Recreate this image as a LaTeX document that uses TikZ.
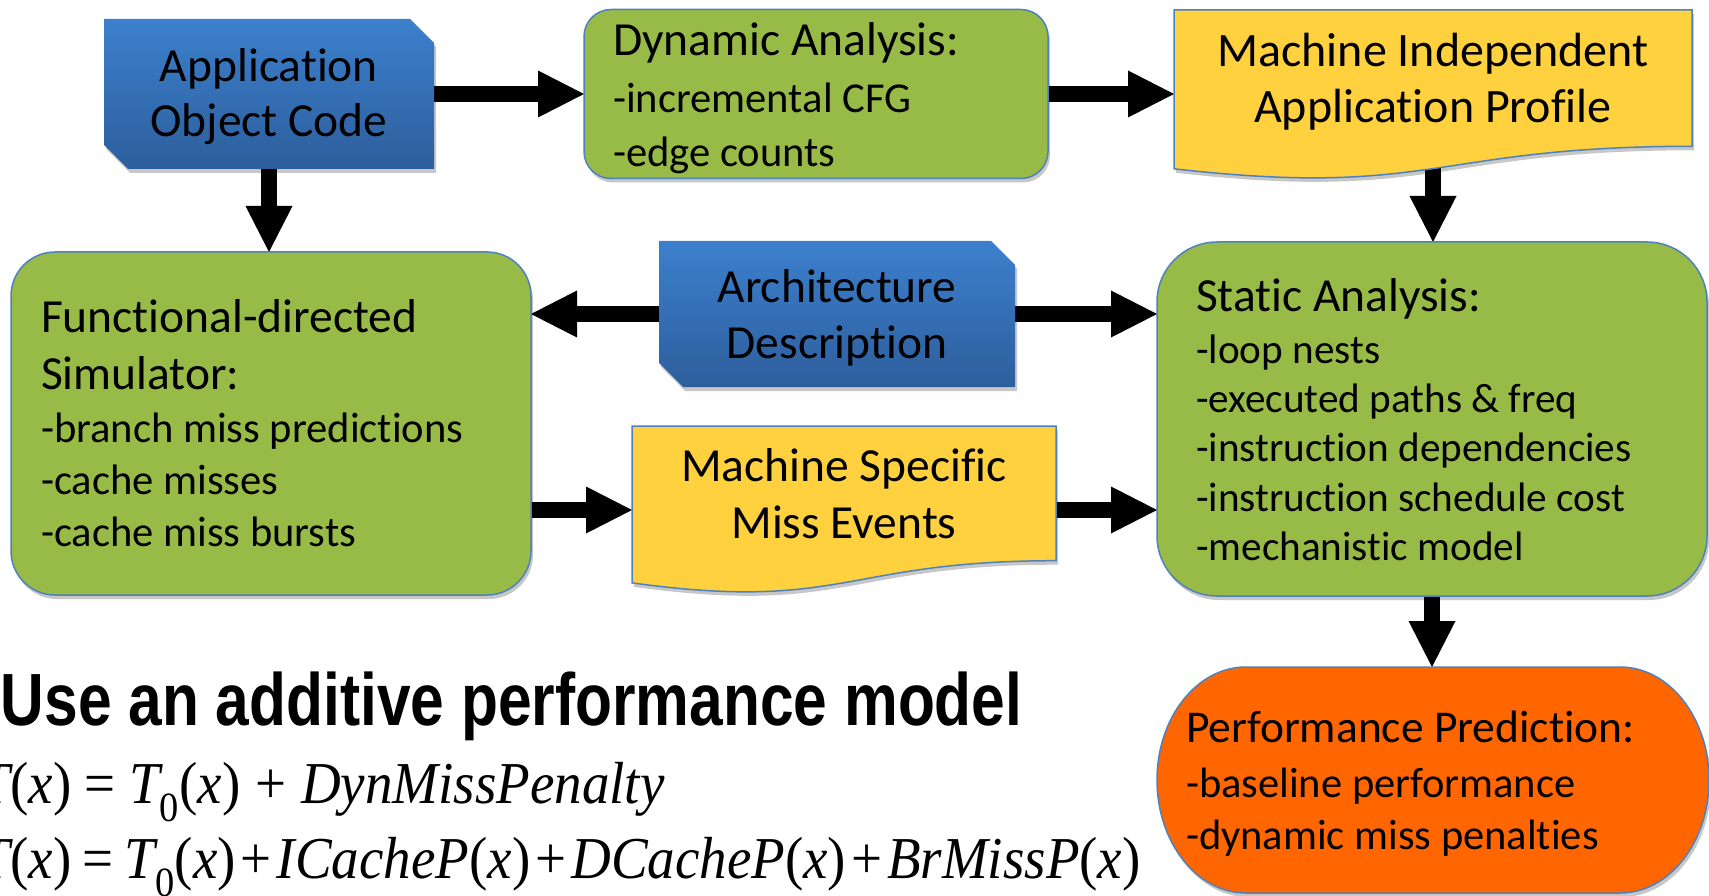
\documentclass[tikz,border=0pt]{standalone}
\usepackage{fontspec}
\usepackage{graphicx}
\setmainfont{Carlito}[Ligatures=NoCommon]
\newfontfamily\titlefont{Liberation Sans}
\newfontfamily\eqfont{Liberation Serif}
\usetikzlibrary{arrows.meta,shadows}

\definecolor{boxgreen}{RGB}{152,187,72}
\definecolor{edgeblue}{RGB}{79,129,189}
\definecolor{docyellow}{RGB}{255,209,63}
\definecolor{perforange}{RGB}{255,102,0}
\definecolor{bluetop}{RGB}{60,128,205}
\definecolor{bluebot}{RGB}{45,94,156}

\newcommand\headsize{\fontsize{47.5}{56}\selectfont}
\newcommand\eqit[1]{{\itshape #1}}
\newcommand\eqrel[1]{\hspace{#1}=\hspace{#1}}
\newcommand\eqplus[1]{\hspace{#1}+\hspace{#1}}

\begin{document}
\begin{tikzpicture}[x=1pt,y=-1pt,
  frame/.style 2 args={inner sep=0pt,outer sep=0pt,minimum width=#1,minimum height=#2},
  shadowed/.style={drop shadow={shadow xshift=2pt,shadow yshift=-4pt,opacity=0.22,fill=black}},
  bluebox/.style={top color=bluetop,bottom color=bluebot,shadowed},
  greenbox/.style={fill=boxgreen,draw=edgeblue,line width=1.5pt,shadowed},
  docbox/.style={fill=docyellow,draw=edgeblue,line width=1.5pt,shadowed},
  perfbox/.style={fill=perforange,draw=edgeblue,line width=1.5pt,shadowed},
  flow/.style={line width=16pt,-{Triangle[length=46pt,width=47pt,line width=0pt]}},
  label/.style={inner sep=0pt,outer sep=0pt},
]
\useasboundingbox (0,0) rectangle (1709,896);

% node frames
\node[frame={330pt}{150pt}] (app)    at (269,94)    {};
\node[frame={464pt}{169pt}] (dyn)    at (816,94)    {};
\node[frame={518pt}{170pt}] (prof)   at (1433,95)   {};
\node[frame={520pt}{343pt}] (func)   at (271,423.5) {};
\node[frame={356pt}{146pt}] (arch)   at (837,314)   {};
\node[frame={550pt}{354pt}] (static) at (1432,419)  {};
\node[frame={424pt}{168pt}] (ms)     at (844,510)   {};
\node[frame={552pt}{226pt}] (perf)   at (1433,780)  {};

% connectors
\draw[flow] (app) -- (dyn);
\draw[flow] (dyn.east) -- (dyn.east -| prof.west);
\draw[flow] (app.south) -- (app.south |- func.north);
\draw[flow] (prof.center) -- (prof.center |- static.north);
\draw[flow] (arch.west) -- (arch.west -| func.east);
\draw[flow] (arch.east) -- (arch.east -| static.west);
\draw[flow] (ms.west -| func.east) -- (ms.west);
\draw[flow] (ms.east) -- (ms.east -| static.west);
\draw[flow] (static.south) -- (static.south |- perf.north);

% shapes
\shade[bluebox] (app.north west) -- ([xshift=-24pt]app.north east) -- ([yshift=-24pt]app.north east)
  -- (app.south east) -- ([xshift=24pt]app.south west) -- ([yshift=24pt]app.south west) -- cycle;
\shade[bluebox] (arch.north west) -- ([xshift=-24pt]arch.north east) -- ([yshift=-24pt]arch.north east)
  -- (arch.south east) -- ([xshift=24pt]arch.south west) -- ([yshift=24pt]arch.south west) -- cycle;
\path[greenbox,rounded corners=27pt] (dyn.north west) rectangle (dyn.south east);
\path[greenbox,rounded corners=44pt] (func.north west) rectangle (func.south east);
\path[greenbox,rounded corners=60pt] (static.north west) rectangle (static.south east);
\path[docbox] (prof.north west) -- (prof.north east) -- (1692,146.3)
  .. controls (1433,146.3) and (1433,198.3) .. (1174,168.8) -- cycle;
\path[docbox] (ms.north west) -- (ms.north east) -- (1056,560.7)
  .. controls (844,560.7) and (844,612) .. (632,582.9) -- cycle;
\path[perfbox] (1246,667) -- (1620,667) arc[start angle=-90,end angle=90,x radius=89,y radius=113]
  -- (1246,893) arc[start angle=90,end angle=270,x radius=89,y radius=113] -- cycle;

% texts
\node[label,anchor=base] (app-t) at (269,82) {\fontsize{47.5}{55}\selectfont
  \begin{tabular}[t]{@{}c@{}}Application\\Object Code\end{tabular}};
\node[label,anchor=base] (arch-t) at (837,302) {\headsize
  \begin{tabular}[t]{@{}c@{}}Architecture\\Description\end{tabular}};
\node[label,anchor=base] (prof-t) at (1433,67) {\fontsize{48}{56}\selectfont
  \begin{tabular}[t]{@{}c@{}}Machine Independent\\Application Profile\end{tabular}};
\node[label,anchor=base] (ms-t) at (844,481) {\fontsize{47.5}{57}\selectfont
  \begin{tabular}[t]{@{}c@{}}Machine Specific\\Miss Events\end{tabular}};
\node[label,anchor=base west] (dyn-t) at (613,56) {\fontsize{42.6}{54}\selectfont
  \begin{tabular}[t]{@{}l@{}}{\headsize Dynamic Analysis:}\\[3pt]-incremental CFG\\-edge counts\end{tabular}};
\node[label,anchor=base west] (func-t) at (41,332) {\fontsize{42.6}{52}\selectfont
  \begin{tabular}[t]{@{}l@{}}{\headsize Functional-directed}\\[6pt]{\headsize Simulator:}\\
  -branch miss predictions\\-cache misses\\-cache miss bursts\end{tabular}};
\node[label,anchor=base west] (static-t) at (1196,311) {\fontsize{41.2}{49.5}\selectfont
  \begin{tabular}[t]{@{}l@{}}{\headsize Static Analysis:}\\[2.5pt]-loop nests\\-executed paths \& freq\\
  -instruction dependencies\\-instruction schedule cost\\-mechanistic model\end{tabular}};
\node[label,anchor=base west] (perf-t) at (1186,742) {\fontsize{42.5}{52}\selectfont
  \begin{tabular}[t]{@{}l@{}}{\fontsize{45.5}{52}\selectfont Performance Prediction:}\\[3pt]-baseline performance\\
  -dynamic miss penalties\end{tabular}};

% model and formulas
\node[label,anchor=base west] (title) at (1,725) {\titlefont\bfseries\fontsize{74}{80}\selectfont
  \scalebox{0.817}[1]{Use an additive performance model}};
\node[label,anchor=base west] (eq1) at (-20,803) {\eqfont\fontsize{55}{60}\selectfont\scalebox{1}[1.08]{%
  \eqit{T}(\eqit{x})\eqrel{0.24em}\eqit{T}\textsubscript{0}(\eqit{x})\eqplus{0.27em}\eqit{DynMissPenalty}}};
\node[label,anchor=base west] (eq2) at (-20,878) {\eqfont\fontsize{55}{60}\selectfont\scalebox{1}[1.08]{%
  \eqit{T}(\eqit{x})\eqrel{0.2em}\eqit{T}\textsubscript{0}(\eqit{x})\eqplus{0.09em}\eqit{ICacheP}(\eqit{x})\eqplus{0.09em}\eqit{DCacheP}(\eqit{x})\eqplus{0.09em}\eqit{BrMissP}(\eqit{x})}};
\end{tikzpicture}
\end{document}
